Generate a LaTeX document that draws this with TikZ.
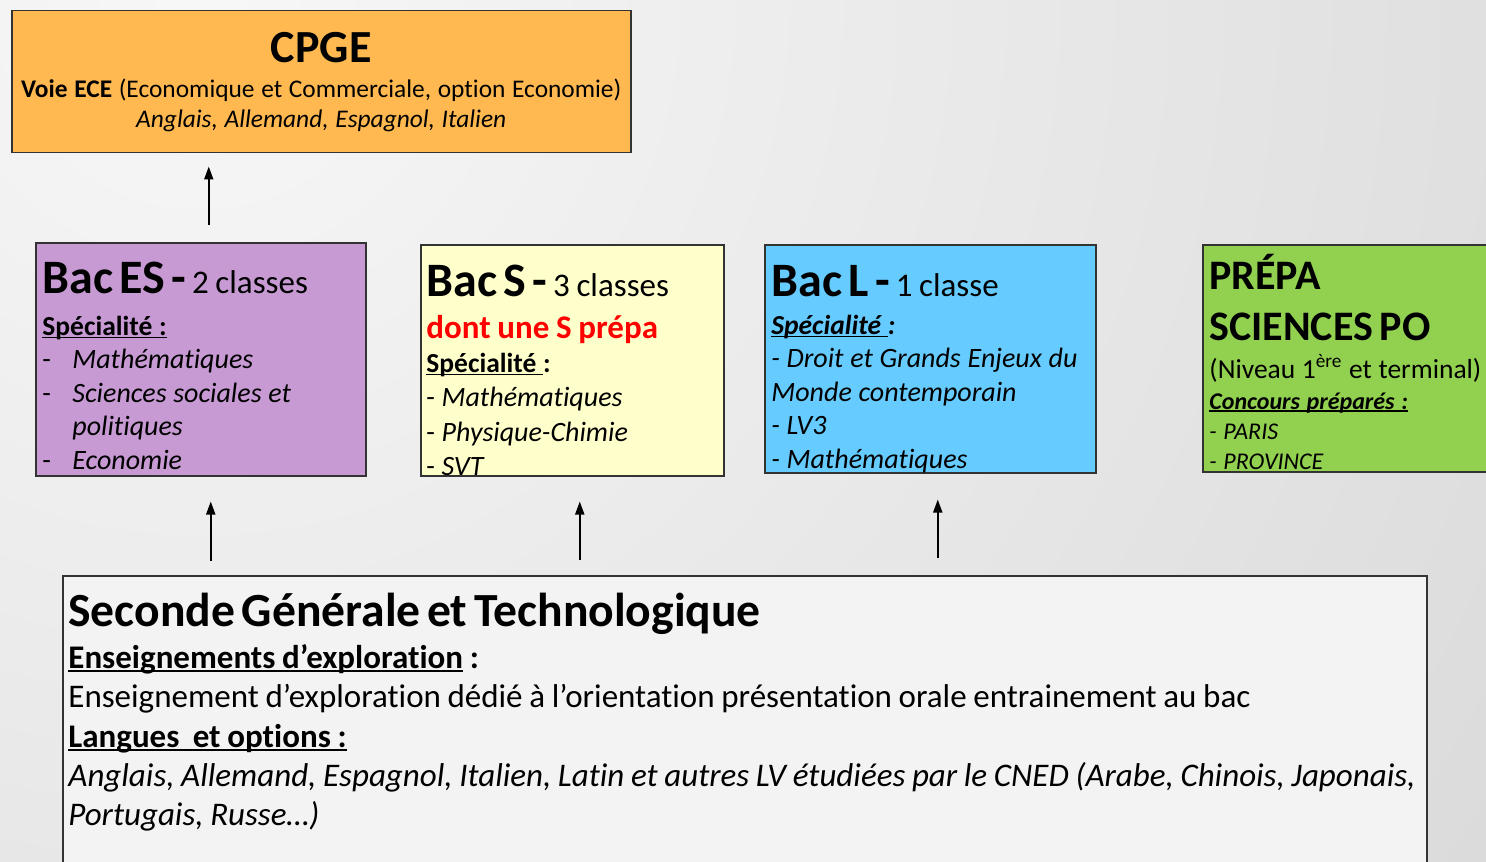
\documentclass[tikz,border=0pt]{standalone}
\usepackage{fontspec}
\setmainfont[Ligatures=NoCommon]{Carlito}
\usetikzlibrary{arrows.meta}
\definecolor{cpgeorange}{RGB}{255,185,80}
\definecolor{esviolet}{RGB}{199,154,212}
\definecolor{sjaune}{RGB}{255,255,204}
\definecolor{lbleu}{RGB}{102,204,255}
\definecolor{povert}{RGB}{146,208,80}
\definecolor{secgris}{RGB}{243,243,243}
\newcommand\fs[2]{\fontsize{#1}{#2}\selectfont}
\newcommand\sous[1]{\leavevmode\setbox0\hbox{#1}\rlap{\rule[-0.11em]{\wd0}{0.065em}}\box0\relax}
\newcommand\tiret{\hspace{3pt}-\hspace{3pt}}
\setlength{\parindent}{0pt}
\begin{document}
\begin{tikzpicture}[x=0.5pt,y=-0.5pt,
  box/.style={draw=black!80, line width=0.75pt, anchor=north west, inner sep=0pt},
  txt/.style={anchor=north west, inner sep=0pt, text width=#1,
    execute at begin node={\rule{0pt}{20pt}}},
  txt/.default=300pt,
  arr/.style={-{Triangle[length=6.5pt,width=4.5pt]}, line width=0.9pt}]
\clip (0,0) rectangle (1486,861);
\shade[inner color=white!97!black, outer color=white!84!black] (200,0) circle (1800);
% boxes
\node[box, fill=cpgeorange, minimum width=309.5pt, minimum height=71pt] (cpge) at (11,10) {};
\node[box, fill=esviolet, minimum width=165pt, minimum height=116.5pt] (es) at (35,242) {};
\node[box, fill=sjaune, minimum width=151.5pt, minimum height=115.5pt] (s) at (420,244) {};
\node[box, fill=lbleu, minimum width=165.5pt, minimum height=114pt] (l) at (764,244) {};
\node[box, fill=povert, minimum width=150pt, minimum height=113.5pt] (po) at (1202,244) {};
\node[box, fill=secgris, minimum width=682pt, minimum height=160pt] (sec) at (62,575) {};
% texts
\node[txt=340pt, align=center, anchor=north] (cpgetxt) at ([shift={(0,12)}]cpge.north) {%
  \fs{23}{0}\textbf{CPGE}\par
  \fs{12.7}{17.5}\textbf{Voie ECE} (Economique et Commerciale, option Economie)\par
  \fs{12.7}{15}\textit{Anglais, Allemand, Espagnol, Italien}\par};
\node[txt] (estxt) at ([shift={(7,11)}]es.north west) {%
  \fs{24}{0}\textbf{Bac ES\tiret}{\fs{16.5}{0}2 classes}\par
  \fs{13.75}{21}\sous{\textbf{Spécialité :}}\par
  \fs{14}{16.75}\makebox[15pt][l]{-}\textit{Mathématiques}\par
  \makebox[15pt][l]{-}\textit{Sciences sociales et}\par
  \hspace*{15pt}\textit{politiques}\par
  \makebox[15pt][l]{-}\textit{Economie}\par};
\node[txt] (stxt) at ([shift={(6,12)}]s.north west) {%
  \fs{24}{0}\textbf{Bac S\tiret}{\fs{16.5}{0}3 classes}\par
  \fs{16.5}{21}\textcolor{red}{\textbf{dont une S prépa}}\par
  \fs{13.75}{17}\sous{\textbf{Spécialité }}\textbf{:}\par
  \fs{14}{17.25}- \textit{Mathématiques}\par
  - \textit{Physique-Chimie}\par
  - \textit{SVT}\par};
\node[txt] (ltxt) at ([shift={(7,12)}]l.north west) {%
  \fs{24}{0}\textbf{Bac L\tiret}{\fs{16.5}{0}1 classe}\par
  \fs{13.75}{19}\textit{\textbf{\sous{Spécialité }:}}\par
  \fs{14}{16.75}\textit{- Droit et Grands Enjeux du}\par
  \textit{Monde contemporain}\par
  \textit{- LV3}\par
  \textit{- Mathématiques}\par};
\node[txt] (potxt) at ([shift={(7,5)}]po.north west) {%
  \fs{21}{0}\textbf{PRÉPA}\par
  \fs{21}{25.5}\textbf{SCIENCES PO}\par
  \fs{13.75}{19}(Niveau 1\textsuperscript{ère} et terminal)\par
  \fs{12}{15.5}\textit{\textbf{\sous{Concours préparés :}}}\par
  \fs{12}{15}\textit{- PARIS}\par
  \textit{- PROVINCE}\par};
\node[txt=700pt] (sectxt) at ([shift={(6,11)}]sec.north west) {%
  \fs{23.8}{0}\textbf{Seconde Générale et Technologique}\par
  \fs{16.5}{21}\textbf{\sous{Enseignements d’exploration} :}\par
  \fs{16.5}{19.5}Enseignement d’exploration dédié à l’orientation présentation orale entrainement au bac\par
  \fs{16.5}{20}\textbf{\sous{Langues\ \ et options :}}\par
  \fs{16.5}{19.5}\textit{Anglais, Allemand, Espagnol, Italien, Latin et autres LV étudiées par le CNED (Arabe, Chinois, Japonais,}\par
  \textit{Portugais, Russe…)}\par};
% arrows
\coordinate (a1) at ([xshift=4pt]es.north);
\coordinate (a2) at ([xshift=5pt]es.south);
\coordinate (a3) at ([xshift=3.75pt]s.south);
\coordinate (a4) at ([xshift=3.75pt]l.south);
\draw[arr, shorten <=8.5pt, shorten >=6.5pt] (a1) -- (a1 |- cpge.south);
\draw[arr, shorten <=7pt, shorten >=12.5pt] (a2 |- sec.north) -- (a2);
\draw[arr, shorten <=7.5pt, shorten >=12.5pt] (a3 |- sec.north) -- (a3);
\draw[arr, shorten <=8.5pt, shorten >=13pt] (a4 |- sec.north) -- (a4);
\end{tikzpicture}
\end{document}
